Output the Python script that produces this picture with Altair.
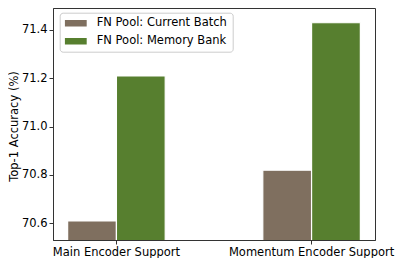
import altair as alt
import pandas as pd

categories = ["Main Encoder Support", "Momentum Encoder Support"]
series = ["FN Pool: Current Batch", "FN Pool: Memory Bank"]
current_batch = [70.61, 70.82]
memory_bank = [71.21, 71.43]
colors = ["#7f6f5f", "#577f2f"]
y_ticks = [70.6, 70.8, 71.0, 71.2, 71.4]

rows = []
for i, c in enumerate(categories):
    rows.append({"category": c, "series": series[0], "value": current_batch[i]})
    rows.append({"category": c, "series": series[1], "value": memory_bank[i]})
df = pd.DataFrame(rows)

FONT = "DejaVu Sans"
FS = 11.5

chart = alt.Chart(df).mark_bar(
    stroke="white", strokeWidth=1.2, clip=True
).encode(
    x=alt.X("category:N", sort=categories,
            scale=alt.Scale(paddingInner=0.5, paddingOuter=0.075),
            axis=alt.Axis(title=None, labelAngle=0, labelFont=FONT, labelFontSize=FS,
                          labelColor="black", labelPadding=2, tickSize=4,
                          tickColor="#333", domainColor="#333", labelLimit=300)),
    xOffset=alt.XOffset("series:N", sort=series,
                        scale=alt.Scale(paddingInner=0, paddingOuter=0)),
    y=alt.Y("value:Q", scale=alt.Scale(domain=[70.531, 71.491], nice=False, zero=False),
            axis=alt.Axis(title="Top-1 Accuracy (%)", values=y_ticks, format=".1f",
                          grid=False, labelFont=FONT, labelFontSize=FS,
                          labelColor="black", labelPadding=2, tickSize=4,
                          tickColor="#333", domainColor="#333",
                          titleFont=FONT, titleFontSize=FS, titleFontWeight="normal",
                          titleColor="black", titleX=-35.5, titleY=118,
                          titleAngle=270, titleAlign="center", titleBaseline="alphabetic")),
    color=alt.Color("series:N", sort=series,
                    scale=alt.Scale(domain=series, range=colors),
                    legend=alt.Legend(title=None, orient="none", legendX=6.7, legendY=4.7,
                                      symbolType="M-1,-0.3L1,-0.3L1,0.3L-1,0.3Z",
                                      symbolSize=484, symbolStrokeWidth=0,
                                      labelFont=FONT, labelFontSize=FS, labelColor="black",
                                      labelOffset=10, clipHeight=11, rowPadding=6,
                                      padding=5, strokeColor="#cccccc", fillColor="white",
                                      cornerRadius=3, labelLimit=300))
).properties(
    width=322, height=232,
    autosize=alt.AutoSizeParams(type="none"),
    padding={"left": 45, "top": 0, "right": 20, "bottom": 18}
).configure_view(
    stroke="#333", strokeWidth=1
)

chart.save("out.html", embed_options={"renderer": "svg", "actions": False})
